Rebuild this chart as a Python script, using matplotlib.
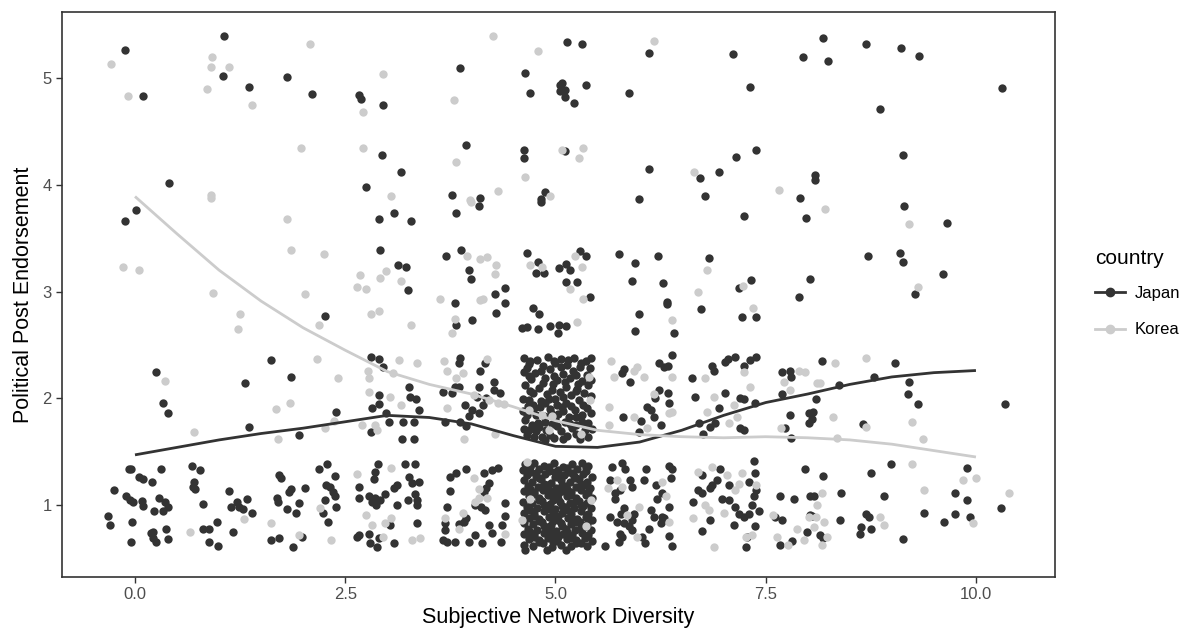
import numpy as np
import matplotlib
matplotlib.use("Agg")
from matplotlib import pyplot as plt
from matplotlib.lines import Line2D

plt.rcParams['font.family'] = ['Liberation Sans', 'DejaVu Sans']

# ---- data (x = network diversity, y = endorsement, jittered) ----
japan_top = [(-0.12, 5.26), (0.10, 4.83), (1.06, 5.39), (1.05, 5.02), (1.36, 4.92), (1.81, 5.01),
             (2.10, 4.85), (2.66, 4.84), (2.69, 4.80), (2.95, 4.75), (3.86, 5.09), (4.64, 5.05),
             (4.70, 4.86), (5.05, 4.93), (5.05, 4.88), (5.14, 5.34), (5.32, 5.32), (6.11, 5.23),
             (7.11, 5.22), (7.94, 5.20), (5.08, 4.95), (5.11, 4.89), (5.11, 4.82), (5.36, 4.93),
             (5.22, 4.77), (5.87, 4.86), (7.31, 4.92), (8.18, 5.37), (8.24, 5.16), (8.69, 5.32),
             (9.11, 5.28), (9.32, 5.21), (10.31, 4.91), (8.86, 4.71),
             (0.40, 4.02), (2.94, 4.28), (3.16, 4.12), (2.75, 3.98), (3.94, 4.37), (3.77, 3.90),
             (4.10, 3.88), (4.63, 4.33), (4.63, 4.25), (4.88, 3.93), (4.83, 3.87), (5.11, 4.32),
             (6.11, 4.15), (6.72, 4.06), (6.94, 4.12), (7.15, 4.26), (7.38, 4.33), (7.91, 3.88),
             (5.99, 3.87), (6.78, 3.89), (9.13, 4.28), (8.09, 4.09), (8.09, 4.04), (0.01, 3.76),
             (-0.12, 3.66), (2.90, 3.68), (3.08, 3.74), (3.28, 3.66), (3.82, 3.74), (4.09, 3.80),
             (4.83, 3.84), (7.24, 3.71), (7.98, 3.69), (9.14, 3.80), (9.66, 3.64)]

japan_mid = [(2.91, 3.39), (3.13, 3.25), (3.22, 3.23), (3.25, 3.01), (2.26, 2.77), (3.70, 3.33),
             (3.88, 3.39), (3.97, 3.20), (4.00, 3.12), (4.40, 3.03), (4.28, 2.98), (4.40, 2.89),
             (4.29, 2.80), (3.80, 2.89), (3.82, 2.69), (4.01, 2.73), (4.66, 3.36), (4.79, 3.28),
             (4.77, 3.17), (4.86, 3.17), (5.04, 3.22), (4.73, 2.85), (4.80, 2.79), (4.60, 2.66),
             (4.66, 2.67), (4.79, 2.65), (4.93, 2.68), (5.04, 2.69), (5.03, 2.61), (5.29, 3.38),
             (5.36, 3.33), (5.12, 3.26), (5.17, 3.20), (5.12, 3.09), (5.26, 3.09), (5.41, 2.95),
             (5.12, 2.68), (5.76, 3.35), (5.95, 3.27), (6.22, 3.33), (5.91, 3.10), (6.28, 3.08),
             (6.33, 2.90), (6.33, 2.88), (5.99, 2.79), (5.95, 2.63), (6.41, 2.61), (6.83, 3.31),
             (6.73, 2.84), (7.18, 3.03), (7.32, 3.11), (7.22, 2.76), (7.38, 2.76), (7.90, 2.95),
             (8.03, 3.12), (8.72, 3.33), (9.10, 3.36), (9.13, 3.28), (9.61, 3.16), (9.27, 2.98)]

japan_b2 = [(0.25, 2.25), (1.31, 2.14), (1.62, 2.36), (1.85, 2.20), (0.33, 1.96), (0.39, 1.86),
            (1.36, 1.73), (1.95, 1.66),
            (2.81, 2.39), (2.90, 2.37), (2.95, 2.29), (3.26, 2.11), (2.39, 1.87), (2.90, 2.03),
            (2.82, 1.91), (2.90, 1.95), (2.98, 1.86), (3.02, 1.78), (2.81, 1.68), (3.17, 1.62),
            (3.32, 1.62), (3.27, 2.01), (3.34, 1.99), (3.38, 1.89), (3.32, 1.78), (3.19, 1.78),
            (3.86, 2.38), (3.85, 2.33), (4.10, 2.26), (4.16, 2.33), (4.27, 2.15), (3.80, 2.11),
            (3.85, 2.11), (4.09, 2.11), (3.66, 2.06), (3.77, 2.05), (3.69, 1.78), (3.86, 1.78),
            (3.94, 1.74), (3.92, 1.94), (4.01, 1.89), (3.97, 1.83), (4.09, 1.86), (4.14, 1.94),
            (4.17, 2.00), (4.07, 2.01), (4.27, 2.08), (4.34, 2.05),
            (5.81, 2.27), (5.79, 2.24), (5.89, 2.15), (6.39, 2.41), (6.23, 2.33), (6.29, 2.29),
            (6.34, 2.30), (5.80, 1.82), (5.99, 1.68), (6.02, 1.79), (6.09, 1.92), (6.14, 1.89),
            (6.17, 1.82), (6.25, 1.75), (6.18, 2.00), (6.34, 2.05), (6.23, 2.08), (6.35, 1.96),
            (6.62, 2.19), (6.86, 2.30), (6.88, 2.26), (7.02, 2.34), (7.13, 2.39), (7.05, 2.37),
            (7.24, 2.30), (7.31, 2.36), (7.38, 2.39), (6.66, 2.01), (6.94, 1.91), (7.02, 2.05),
            (6.71, 1.77), (6.75, 1.67), (6.84, 1.73), (6.90, 1.77), (7.19, 2.00), (7.24, 1.99),
            (7.37, 1.96), (7.19, 1.72), (7.24, 1.70),
            (7.69, 2.25), (7.79, 2.26), (7.80, 2.20), (7.69, 2.04), (7.79, 1.84), (7.73, 1.72),
            (7.80, 1.63), (8.01, 1.86), (8.01, 1.77), (8.17, 2.35), (8.37, 2.12), (8.10, 1.99),
            (8.06, 1.87), (8.05, 1.81), (8.66, 1.76),
            (9.04, 2.33), (8.79, 2.20), (9.20, 2.15), (9.19, 2.04), (9.31, 1.95), (10.34, 1.95)]

japan_b2_x5 = [(4.68, 1.98), (4.73, 1.94), (4.88, 1.96), (4.92, 1.99), (4.64, 1.80), (4.72, 1.75),
               (4.77, 1.69), (4.84, 1.64), (4.88, 1.61), (4.69, 1.70), (4.77, 1.84), (4.88, 1.78),
               (5.00, 1.81),
               (4.63, 2.38), (4.78, 2.36), (4.91, 2.39), (5.07, 2.37), (5.22, 2.38), (5.36, 2.35),
               (4.69, 2.32), (4.85, 2.30), (5.00, 2.33), (5.14, 2.31), (5.29, 2.29),
               (4.62, 2.25), (4.76, 2.24), (4.94, 2.27), (5.09, 2.23), (5.21, 2.26), (5.37, 2.22),
               (4.71, 2.18), (4.88, 2.19), (5.02, 2.17), (5.17, 2.19), (5.31, 2.16),
               (4.64, 2.12), (4.80, 2.10), (4.97, 2.13), (5.12, 2.11), (5.26, 2.09), (5.39, 2.12),
               (4.73, 2.05), (4.90, 2.04), (5.05, 2.06), (5.19, 2.03), (5.34, 2.05),
               (4.61, 1.99), (4.83, 1.97), (4.99, 1.99), (5.13, 1.96), (5.28, 1.98),
               (4.75, 1.91), (4.93, 1.90), (5.08, 1.92), (5.23, 1.89), (5.38, 1.91),
               (4.66, 1.84), (4.86, 1.83), (5.03, 1.85), (5.16, 1.82), (5.32, 1.84),
               (4.79, 1.77), (4.96, 1.76), (5.11, 1.78), (5.25, 1.75), (5.39, 1.77),
               (4.63, 1.71), (4.89, 1.70), (5.06, 1.69), (5.20, 1.72), (5.35, 1.70),
               (4.74, 1.64), (4.98, 1.63), (5.14, 1.65), (5.29, 1.62),
               (4.70, 2.35), (4.98, 2.35), (5.15, 2.36), (5.30, 2.33), (5.42, 2.38),
               (4.66, 2.28), (4.83, 2.26), (5.06, 2.29), (5.24, 2.22), (5.41, 2.28),
               (4.68, 2.21), (4.98, 2.21), (5.11, 2.15), (5.27, 2.13), (5.42, 2.17),
               (4.70, 2.07), (4.85, 2.14), (4.96, 2.08), (5.09, 2.01), (5.24, 2.07), (5.42, 2.02),
               (4.67, 1.93), (4.82, 1.92), (5.02, 1.94), (5.18, 1.93), (5.33, 1.94),
               (4.61, 1.88), (4.95, 1.86), (5.09, 1.88), (5.24, 1.82), (5.42, 1.86),
               (4.81, 1.73), (5.02, 1.74), (5.17, 1.76), (5.32, 1.78), (5.43, 1.71),
               (4.66, 1.66), (4.93, 1.66), (5.09, 1.62), (5.24, 1.67), (5.39, 1.64)]

japan_b1 = [(-0.07, 1.34), (-0.05, 1.34), (0.31, 1.34), (0.05, 1.26), (0.10, 1.24), (0.20, 1.22),
            (-0.25, 1.14), (-0.11, 1.08), (-0.06, 1.05), (-0.02, 1.03), (0.08, 1.04), (0.10, 0.99),
            (0.29, 1.07), (0.36, 1.03), (0.39, 0.98), (0.23, 0.94), (0.33, 0.94), (-0.32, 0.90),
            (-0.30, 0.81), (-0.04, 0.84), (0.19, 0.74), (0.21, 0.69), (0.25, 0.65), (0.21, 0.75),
            (0.37, 0.78), (0.39, 0.68), (-0.05, 0.65),
            (0.68, 1.37), (0.77, 1.33), (0.70, 1.22), (0.69, 1.17), (0.71, 1.15), (0.81, 1.01),
            (0.81, 0.78), (0.88, 0.78), (0.88, 0.65), (0.99, 0.62), (0.97, 0.84), (1.12, 1.13),
            (1.14, 0.98), (1.21, 1.03), (1.24, 0.98), (1.28, 0.96), (1.33, 1.06), (1.39, 0.93),
            (1.17, 0.75),
            (1.71, 1.28), (1.74, 1.25), (1.85, 1.15), (1.83, 1.12), (2.02, 1.16), (1.69, 1.07),
            (1.70, 1.03), (1.81, 0.96), (1.95, 1.02), (1.91, 0.93), (1.62, 0.67), (1.71, 0.69),
            (1.99, 0.70), (1.88, 0.61), (2.19, 1.34), (2.28, 1.38), (2.38, 1.27), (2.27, 1.19),
            (2.32, 1.17), (2.35, 1.12), (2.38, 1.08), (2.26, 1.05), (2.39, 0.98), (2.24, 0.93),
            (2.29, 0.84),
            (2.89, 1.38), (2.85, 1.31), (2.84, 1.24), (2.66, 1.17), (2.66, 1.07), (2.78, 1.08),
            (2.82, 1.03), (2.87, 1.00), (2.85, 1.07), (2.91, 1.05), (2.97, 1.10), (3.08, 1.16),
            (3.12, 1.19), (3.12, 1.00), (3.03, 0.81), (2.64, 0.70), (2.66, 0.72), (2.78, 0.73),
            (2.80, 0.64), (2.88, 0.61), (2.90, 0.69), (3.08, 0.64), (3.21, 1.38), (3.33, 1.38),
            (3.26, 1.26), (3.29, 1.21), (3.38, 1.22), (3.25, 1.05), (3.33, 1.10), (3.35, 1.05),
            (3.35, 1.00), (3.35, 0.83),
            (3.75, 1.26), (3.82, 1.30), (3.94, 1.34), (3.75, 1.13), (3.71, 0.98), (3.69, 0.83),
            (3.69, 0.77), (3.66, 0.67), (3.71, 0.65), (3.85, 0.82), (3.91, 0.84), (3.94, 0.88),
            (3.80, 0.65), (4.15, 1.30), (4.24, 1.33), (4.32, 1.35), (4.21, 1.21), (4.17, 1.16),
            (4.15, 1.12), (4.04, 1.00), (4.11, 0.98), (4.16, 0.95), (3.97, 0.65), (4.04, 0.72),
            (4.13, 0.64), (4.21, 0.81), (4.24, 0.74), (4.40, 1.02), (4.40, 0.90), (4.36, 0.81),
            (4.35, 0.65),
            (5.67, 1.36), (5.79, 1.39), (5.83, 1.34), (5.65, 1.23), (5.71, 1.11), (5.77, 1.14),
            (5.71, 1.06), (5.81, 0.97), (5.89, 1.23), (5.91, 1.17), (6.05, 1.23), (6.08, 1.34),
            (6.19, 1.19), (6.21, 1.06), (6.13, 0.95), (6.17, 0.89), (6.27, 1.11), (6.35, 1.37),
            (6.37, 1.25), (6.39, 1.34), (6.35, 0.98), (6.27, 0.89), (5.65, 0.89), (5.73, 0.84),
            (5.78, 0.92), (5.81, 0.83), (5.91, 0.86), (5.93, 0.92), (5.87, 0.80), (5.91, 0.77),
            (5.77, 0.73), (5.79, 0.70), (5.76, 0.65), (6.03, 0.70), (6.07, 0.64), (6.11, 0.78),
            (5.59, 0.62), (6.35, 0.71), (6.39, 0.62), (6.26, 0.83), (6.29, 0.88),
            (6.74, 1.28), (6.70, 1.14), (6.74, 1.11), (6.64, 1.03), (6.84, 1.16), (6.86, 1.19),
            (6.92, 1.23), (6.96, 1.34), (7.06, 1.19), (6.98, 1.06), (7.06, 1.05), (7.14, 0.98),
            (7.18, 0.92), (7.24, 0.89), (7.30, 0.92), (7.34, 1.00), (7.36, 1.08), (7.38, 1.14),
            (7.37, 1.30), (7.36, 1.41), (7.30, 1.22), (7.42, 0.94), (6.84, 0.86), (6.74, 0.76),
            (7.12, 0.81), (7.26, 0.61), (7.37, 0.80), (7.28, 0.70),
            (7.67, 1.08), (7.84, 1.06), (7.61, 0.89), (7.69, 0.86), (7.97, 1.34), (8.03, 1.08),
            (8.03, 0.91), (7.99, 0.75), (7.81, 0.66), (7.67, 0.63),
            (8.99, 1.38), (8.75, 1.30), (8.18, 1.27), (9.89, 1.35), (8.07, 1.08), (8.39, 1.11),
            (8.91, 1.08), (9.75, 1.11), (9.89, 1.05), (10.30, 0.97), (8.05, 0.90), (8.38, 0.86),
            (8.69, 0.92), (8.73, 0.89), (8.63, 0.79), (8.62, 0.73), (8.75, 0.78), (8.15, 0.72),
            (8.18, 0.69), (9.13, 0.68), (9.38, 0.93), (9.62, 0.84), (9.75, 0.92), (9.93, 0.89)]

japan_b1_x5 = [(4.64, 1.38), (4.75, 1.39), (4.86, 1.37), (4.98, 1.39), (5.09, 1.36), (5.20, 1.38), (5.31, 1.39), (5.39, 1.37),
               (4.61, 1.33), (4.70, 1.31), (4.81, 1.34), (4.92, 1.32), (5.03, 1.33), (5.15, 1.31), (5.26, 1.34), (5.36, 1.32),
               (4.66, 1.28), (4.77, 1.27), (4.88, 1.29), (4.99, 1.26), (5.10, 1.28), (5.22, 1.27), (5.33, 1.29),
               (4.62, 1.23), (4.72, 1.22), (4.83, 1.24), (4.95, 1.21), (5.06, 1.23), (5.17, 1.22), (5.28, 1.24), (5.38, 1.22),
               (4.67, 1.18), (4.79, 1.17), (4.90, 1.19), (5.01, 1.16), (5.12, 1.18), (5.24, 1.17), (5.34, 1.19),
               (4.63, 1.13), (4.74, 1.12), (4.85, 1.14), (4.96, 1.11), (5.08, 1.13), (5.19, 1.12), (5.30, 1.14), (5.39, 1.12),
               (4.68, 1.08), (4.80, 1.07), (4.91, 1.09), (5.03, 1.06), (5.14, 1.08), (5.25, 1.07), (5.36, 1.09),
               (4.61, 1.03), (4.72, 1.02), (4.84, 1.04), (4.94, 1.01), (5.05, 1.03), (5.17, 1.02), (5.28, 1.04), (5.38, 1.02),
               (4.66, 0.98), (4.78, 0.97), (4.89, 0.99), (5.00, 0.96), (5.11, 0.98), (5.22, 0.97), (5.33, 0.99),
               (4.63, 0.93), (4.74, 0.92), (4.86, 0.94), (4.97, 0.91), (5.08, 0.93), (5.19, 0.92), (5.30, 0.94), (5.39, 0.92),
               (4.69, 0.88), (4.81, 0.87), (4.92, 0.89), (5.03, 0.86), (5.15, 0.88), (5.26, 0.87), (5.36, 0.89),
               (4.62, 0.83), (4.73, 0.82), (4.84, 0.84), (4.95, 0.81), (5.06, 0.83), (5.18, 0.82), (5.29, 0.84), (5.38, 0.82),
               (4.67, 0.78), (4.78, 0.77), (4.90, 0.79), (5.01, 0.76), (5.12, 0.78), (5.23, 0.77), (5.34, 0.79),
               (4.63, 0.73), (4.75, 0.72), (4.86, 0.74), (4.97, 0.71), (5.09, 0.73), (5.20, 0.72), (5.31, 0.74), (5.39, 0.72),
               (4.68, 0.68), (4.80, 0.67), (4.91, 0.69), (5.02, 0.66), (5.14, 0.68), (5.25, 0.67), (5.35, 0.69),
               (4.62, 0.63), (4.73, 0.62), (4.85, 0.64), (4.96, 0.61), (5.07, 0.63), (5.19, 0.62), (5.30, 0.64), (5.38, 0.62),
               (4.70, 1.36), (4.92, 1.36), (5.14, 1.35), (5.36, 1.35), (4.81, 1.25), (5.03, 1.26), (5.25, 1.25), (5.43, 1.26),
               (4.70, 1.15), (4.92, 1.14), (5.14, 1.15), (5.41, 1.16), (4.81, 1.05), (5.03, 1.10), (5.25, 1.04), (5.44, 1.07),
               (4.70, 0.95), (4.92, 0.96), (5.14, 0.95), (5.42, 0.97), (4.81, 0.85), (5.03, 0.90), (5.25, 0.84), (5.43, 0.86),
               (4.70, 0.75), (4.92, 0.76), (5.14, 0.75), (5.42, 0.77), (4.81, 0.65), (5.03, 0.70), (5.25, 0.64), (5.43, 0.66),
               (4.77, 1.30), (4.99, 1.31), (5.20, 1.30), (4.86, 1.20), (5.08, 1.19), (5.30, 1.20), (4.75, 1.10), (4.97, 1.05),
               (5.19, 1.09), (4.86, 1.00), (5.08, 0.99), (5.30, 1.00), (4.75, 0.90), (4.97, 0.85), (5.19, 0.89), (4.86, 0.80),
               (5.08, 0.80), (5.30, 0.79), (4.75, 0.70), (4.97, 0.65), (5.19, 0.69), (4.64, 0.58), (4.90, 0.58), (5.12, 0.58)]

korea_top = [(-0.29, 5.13), (-0.08, 4.83), (0.92, 5.20), (0.90, 5.10), (1.12, 5.10), (0.86, 4.90),
             (1.39, 4.75), (2.08, 5.32), (2.95, 5.04), (2.71, 4.68), (4.26, 5.39), (4.79, 5.25),
             (3.79, 4.79), (6.17, 5.35),
             (1.97, 4.34), (0.90, 3.90), (0.90, 3.88), (2.71, 4.34), (3.82, 4.21), (3.04, 3.89),
             (3.98, 3.86), (4.32, 3.94), (4.64, 4.07), (4.93, 3.89), (5.08, 4.33), (5.33, 4.34),
             (5.28, 4.25), (6.65, 4.12), (7.66, 3.95), (1.81, 3.68), (4.00, 3.84), (8.20, 3.77),
             (9.20, 3.63)]

korea_mid = [(1.85, 3.39), (-0.14, 3.23), (0.05, 3.20), (0.93, 2.99), (2.02, 2.98), (1.25, 2.79),
             (1.22, 2.65), (2.25, 3.35), (2.98, 3.19), (2.91, 3.13), (2.68, 3.15), (2.64, 3.04),
             (2.75, 3.02), (3.16, 3.10), (2.81, 2.79), (2.90, 2.82), (2.19, 2.69), (3.28, 2.69),
             (3.95, 3.33), (4.10, 3.30), (4.19, 3.32), (4.29, 3.25), (4.28, 3.16), (4.10, 2.92),
             (4.14, 2.93), (3.63, 2.93), (3.80, 2.74), (3.77, 2.61), (4.70, 3.25), (4.84, 3.23),
             (5.23, 3.33), (5.32, 3.23), (5.17, 3.02), (5.33, 2.93), (5.26, 2.71), (6.39, 2.73),
             (6.80, 3.20), (6.69, 3.00), (7.23, 3.05), (7.35, 2.85), (9.31, 3.04)]

korea_b2 = [(0.36, 2.16), (0.70, 1.68), (1.68, 1.90), (1.84, 1.96), (1.70, 1.62), (2.16, 2.37),
            (2.77, 2.26), (2.78, 2.19), (2.41, 2.19), (3.14, 2.36), (3.35, 2.33), (3.07, 2.24),
            (3.67, 2.35), (3.71, 2.26), (3.90, 2.24), (3.82, 2.19), (4.19, 2.37), (2.37, 1.79),
            (2.26, 1.72), (2.78, 2.06), (3.03, 2.01), (2.85, 1.75), (2.88, 1.70), (3.16, 1.94),
            (2.70, 1.75), (3.71, 1.91), (3.91, 1.62), (4.28, 1.67), (4.32, 1.96), (4.39, 1.95),
            (4.03, 2.03), (4.21, 1.98), (5.66, 2.35), (5.70, 2.20), (5.97, 2.29), (5.93, 2.26),
            (6.05, 2.20), (6.39, 2.20), (6.78, 2.19), (7.24, 2.25), (7.31, 2.11), (7.72, 2.15),
            (7.90, 2.26), (7.97, 2.25), (5.41, 1.98), (5.64, 1.92), (5.64, 1.75), (5.93, 1.82),
            (6.09, 1.72), (6.17, 2.04), (6.39, 1.87), (6.35, 1.86), (6.88, 2.01), (6.80, 1.87),
            (7.12, 1.94), (7.06, 1.77), (7.16, 1.82), (7.68, 1.72), (7.79, 2.08), (8.32, 2.33),
            (8.69, 2.38), (8.11, 2.14), (8.14, 2.14), (8.30, 1.82), (8.69, 1.73), (8.35, 1.63),
            (9.24, 1.78), (9.37, 1.62), (4.68, 1.89), (4.84, 1.84), (4.92, 1.70), (4.96, 1.83),
            (5.40, 2.20), (5.30, 1.67)]

korea_b1 = [(0.65, 0.75), (1.30, 0.87), (1.62, 0.83), (1.95, 0.72), (2.20, 0.97), (2.33, 0.67),
            (2.64, 1.29), (2.75, 0.91), (2.82, 0.81), (3.04, 1.35), (3.04, 0.88), (2.97, 0.83),
            (2.95, 0.70), (3.29, 0.67), (3.39, 0.69), (4.03, 1.25), (4.09, 1.15), (4.19, 1.07),
            (4.04, 1.03), (3.69, 0.88), (3.85, 0.78), (3.90, 0.93), (4.09, 1.07), (4.40, 0.73),
            (4.66, 1.40), (5.42, 1.05), (4.60, 0.86), (5.36, 0.80), (4.70, 1.06),
            (5.63, 1.16), (5.73, 1.23), (5.79, 1.17), (5.99, 0.98), (5.85, 0.91), (5.97, 0.70),
            (6.31, 1.08), (6.27, 1.22), (6.35, 0.84),
            (6.70, 1.31), (6.86, 1.36), (7.04, 1.28), (7.22, 1.30), (7.18, 1.20), (7.14, 1.14),
            (7.38, 1.19), (6.78, 1.00), (6.82, 0.95), (6.64, 0.88), (7.00, 0.93), (7.26, 0.70),
            (7.34, 0.72), (6.89, 0.61),
            (7.59, 0.91), (7.63, 0.70), (7.95, 0.67), (7.77, 0.63), (8.02, 0.89), (7.87, 0.78),
            (9.24, 1.38), (9.85, 1.23), (10.00, 1.25), (8.17, 1.11), (8.11, 1.00), (9.38, 1.14),
            (10.39, 1.11), (8.10, 0.89), (8.19, 0.84), (8.07, 0.79), (8.86, 0.89), (8.91, 0.81),
            (8.23, 0.70), (8.17, 0.63), (9.96, 0.83)]

# smoothed trend lines
smooth_x = [0, 0.5, 1, 1.5, 2, 2.5, 3, 3.5, 4, 4.5, 5, 5.5, 6, 6.5, 7, 7.5, 8, 8.5, 9, 9.5, 10]
japan_smooth = [1.47, 1.54, 1.61, 1.67, 1.72, 1.78, 1.84, 1.82, 1.76, 1.65, 1.55, 1.54, 1.59,
                1.70, 1.84, 1.96, 2.04, 2.13, 2.20, 2.24, 2.26]
korea_smooth = [3.89, 3.54, 3.20, 2.91, 2.66, 2.45, 2.25, 2.13, 2.04, 1.92, 1.79, 1.70, 1.66,
                1.64, 1.63, 1.64, 1.63, 1.61, 1.57, 1.51, 1.45]

x_ticks = [0, 2.5, 5, 7.5, 10]
x_ticklabels = ["0.0", "2.5", "5.0", "7.5", "10.0"]
y_ticks = [1, 2, 3, 4, 5]

japan_col = '#333333'
korea_col = '#cccccc'

japan = np.array(japan_top + japan_mid + japan_b2 + japan_b2_x5 + japan_b1 + japan_b1_x5)
korea = np.array(korea_top + korea_mid + korea_b2 + korea_b1)

fig = plt.figure(figsize=(11.9, 6.33), dpi=100)
ax = fig.add_axes([62 / 1190, 1 - 577 / 633, (1055 - 62) / 1190, (577 - 12) / 633])

ax.scatter(japan[:, 0], japan[:, 1], s=36, color=japan_col, linewidths=0, zorder=2)
ax.scatter(korea[:, 0], korea[:, 1], s=36, color=korea_col, linewidths=0, zorder=3)
ax.plot(smooth_x, japan_smooth, color=japan_col, lw=2.0, zorder=4, solid_capstyle='butt')
ax.plot(smooth_x, korea_smooth, color=korea_col, lw=2.0, zorder=5, solid_capstyle='butt')

ax.set_xlim(-0.868, 10.94)
ax.set_ylim(0.326, 5.618)
ax.set_xticks(x_ticks)
ax.set_xticklabels(x_ticklabels)
ax.set_yticks(y_ticks)
ax.tick_params(colors='#333333', labelcolor='#4d4d4d', labelsize=12, length=4, width=1)
for sp in ax.spines.values():
    sp.set_color('#333333')
    sp.set_linewidth(1.2)

ax.set_xlabel("Subjective Network Diversity", fontsize=15.5, labelpad=3)
ax.set_ylabel("Political Post Endorsement", fontsize=15.5, labelpad=6)

handles = [Line2D([], [], color=japan_col, lw=2.0, marker='o', markersize=6),
           Line2D([], [], color=korea_col, lw=2.0, marker='o', markersize=6)]
leg = fig.legend(handles, ["Japan", "Korea"], title="country", loc='center left',
                 bbox_to_anchor=(1080 / 1190, 1 - 293 / 633), frameon=False,
                 fontsize=12, title_fontsize=15, handlelength=1.8, labelspacing=1.3,
                 handletextpad=0.6)
leg._legend_box.align = "left"
leg._legend_box.sep = 13

fig.savefig("out.png", dpi=100)
